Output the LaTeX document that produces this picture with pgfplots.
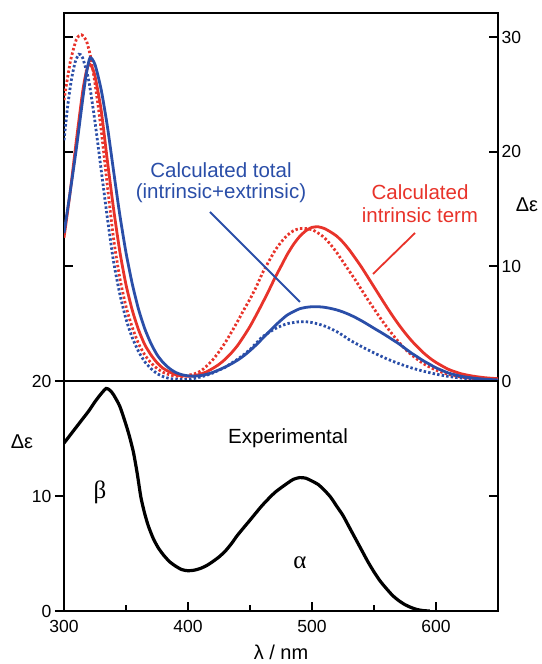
\documentclass[border=0pt]{standalone}
\usepackage{fontspec}
\setmainfont{Liberation Sans}
\newfontfamily\grserif{Liberation Serif}
\usepackage{pgfplots}
\pgfplotsset{compat=1.18}
\definecolor{cRed}{RGB}{232,51,42}
\definecolor{cBlue}{RGB}{42,78,168}

\pgfplotsset{
  panel/.style={
    scale only axis, width=434pt, anchor=south west,
    xmin=300, xmax=650,
    axis line style={line width=2pt},
    tick style={line width=1.8pt, black},
    major tick length=9pt, minor tick length=6pt,
    tick label style={font=\fontsize{17.5}{19}\selectfont},
    /pgf/number format/assume math mode=true,
  },
  ssolid/.style={line width=2.8pt, smooth, tension=0.4},
  sdot/.style={line width=2.8pt, smooth, tension=0.4, dash pattern=on 2.4pt off 2.2pt},
}

\begin{document}
\begin{tikzpicture}
\useasboundingbox (0,0) rectangle (541pt,664pt);

% top panel: calculated spectra
\begin{axis}[panel, at={(64pt,283pt)}, height=368pt, ymin=0, ymax=32.1,
  xtick=\empty, ytick={0,10,20,30}, ytick pos=both, yticklabel pos=right,
  tick align=inside]
% calculated intrinsic term, dotted
\addplot[cRed, sdot] coordinates {
 (300,24.5)(305,27.8)(310,29.8)(314,30.2)(318,29.7)(322,28.0)(326,25.2)(330,21.9)
 (335,17.0)(340,12.4)(345,9.0)(350,6.5)(355,4.7)(360,3.3)(365,2.3)(370,1.6)
 (375,1.1)(380,0.75)(385,0.55)(390,0.42)(395,0.4)(400,0.5)(405,0.62)(410,0.85)
 (415,1.3)(420,1.85)(425,2.55)(430,3.35)(435,4.25)(440,5.2)(445,6.2)(450,7.15)
 (455,8.2)(460,9.4)(465,10.4)(470,11.35)(475,12.1)(480,12.7)(485,13.1)(490,13.3)
 (495,13.3)(500,13.2)(505,12.9)(510,12.5)(515,11.9)(520,11.2)(525,10.4)(530,9.6)
 (535,8.8)(540,7.95)(545,7.1)(550,6.3)(555,5.5)(560,4.75)(565,4.05)(570,3.4)
 (575,2.8)(580,2.3)(590,1.5)(600,0.95)(610,0.58)(620,0.35)(630,0.2)(640,0.12)(650,0.07)
};
% calculated total, dotted
\addplot[cBlue, sdot] coordinates {
 (300,21.0)(303,24.0)(306,26.3)(309,27.8)(312,28.5)(315,28.2)(320,26.2)(325,22.6)
 (330,18.4)(335,14.2)(340,10.4)(345,7.6)(350,5.4)(355,3.8)(360,2.6)(365,1.7)
 (370,1.1)(375,0.65)(380,0.38)(385,0.22)(390,0.15)(395,0.12)(400,0.15)(405,0.22)
 (410,0.35)(415,0.5)(420,0.7)(425,0.95)(430,1.2)(435,1.55)(440,1.9)(445,2.3)
 (450,2.75)(455,3.3)(460,3.85)(470,4.55)(475,4.8)(480,5.0)(485,5.1)(490,5.17)
 (495,5.17)(500,5.1)(505,4.97)(510,4.8)(515,4.57)(520,4.3)(525,3.97)(530,3.6)
 (535,3.3)(540,3.0)(545,2.72)(550,2.45)(560,1.95)(570,1.52)(580,1.15)(590,0.85)
 (600,0.6)(610,0.4)(620,0.26)(630,0.16)(640,0.1)(650,0.06)
};
% calculated intrinsic term, solid
\addplot[cRed, ssolid] coordinates {
 (300,12.5)(305,16.5)(310,21.0)(315,25.2)(318,27.0)(320,27.6)(322,27.5)(325,26.6)
 (330,23.6)(335,19.2)(340,15.0)(345,11.3)(350,8.4)(355,6.2)(360,4.5)(365,3.2)
 (370,2.3)(375,1.6)(380,1.1)(385,0.8)(390,0.55)(395,0.45)(400,0.42)(405,0.45)
 (410,0.6)(415,0.8)(420,1.1)(425,1.45)(430,1.9)(435,2.45)(440,3.1)(445,3.9)
 (450,4.76)(455,5.75)(460,6.78)(465,7.85)(470,8.97)(475,10.0)(480,11.03)(485,11.9)
 (490,12.6)(495,13.1)(500,13.4)(505,13.45)(510,13.3)(515,13.0)(520,12.63)(525,12.1)
 (530,11.45)(535,10.7)(540,9.92)(545,9.07)(550,8.21)(555,7.35)(560,6.5)(565,5.68)
 (570,4.91)(575,4.2)(580,3.55)(585,2.98)(590,2.45)(595,2.0)(600,1.62)(610,1.02)
 (620,0.64)(630,0.42)(640,0.28)(650,0.2)
};
% calculated total, solid
\addplot[cBlue, ssolid] coordinates {
 (300,12.9)(305,16.5)(310,20.3)(315,24.5)(318,26.8)(321,28.2)(325,27.6)(330,25.4)
 (335,22.2)(340,18.3)(345,14.5)(350,11.2)(355,8.5)(360,6.3)(365,4.6)(370,3.3)
 (375,2.3)(380,1.6)(385,1.1)(390,0.75)(395,0.55)(400,0.45)(405,0.42)(410,0.47)
 (415,0.58)(420,0.75)(425,0.97)(430,1.22)(435,1.5)(440,1.82)(445,2.2)(450,2.65)
 (455,3.15)(460,3.7)(465,4.25)(470,4.8)(475,5.3)(480,5.75)(485,6.05)(490,6.3)(495,6.42)
 (500,6.48)(505,6.48)(510,6.43)(515,6.33)(520,6.2)(525,6.02)(530,5.8)(535,5.54)
 (540,5.25)(545,4.93)(550,4.6)(555,4.28)(560,3.95)(565,3.6)(570,3.25)(575,2.85)
 (580,2.45)(585,2.1)(590,1.75)(595,1.45)(600,1.15)(610,0.7)(620,0.42)(630,0.25)
 (640,0.15)(650,0.09)
};
\end{axis}

% bottom panel: experimental spectrum
\begin{axis}[panel, at={(64pt,53pt)}, height=230pt, ymin=0, ymax=20,
  xtick={300,400,500,600}, minor xtick={350,450,550}, xtick pos=bottom,
  xticklabel style={yshift=-6pt},
  ytick={10}, yticklabels={}, ytick pos=right, tick align=inside]
\addplot[black, line width=3.2pt, smooth, tension=0.4] coordinates {
 (300,14.6)(305,15.3)(310,16.0)(315,16.7)(320,17.4)(325,18.2)(330,18.9)(334,19.35)
 (337,19.2)(340,18.8)(345,17.8)(350,16.2)(353,15.1)(356,13.8)(359,12.0)(362,9.9)
 (365,8.5)(368,7.4)(372,6.3)(376,5.5)(380,4.9)(385,4.3)(390,3.9)(395,3.6)(400,3.5)
 (405,3.55)(410,3.7)(415,3.95)(420,4.3)(425,4.7)(430,5.2)(435,5.85)(440,6.6)
 (450,7.9)(460,9.2)(470,10.3)(480,11.1)(485,11.45)(490,11.6)(495,11.55)(500,11.3)
 (505,11.0)(510,10.5)(515,9.9)(520,9.1)(525,8.3)(530,7.3)(535,6.3)(540,5.3)
 (545,4.3)(550,3.4)(555,2.6)(560,1.95)(565,1.35)(570,0.9)(575,0.55)(580,0.3)
 (585,0.12)(590,0.03)(595,0)
};
\end{axis}
\begin{axis}[panel, at={(64pt,53pt)}, height=230pt, ymin=0, ymax=20,
  xtick=\empty, ytick={0,10,20}, ytick pos=left, tick align=outside]
\end{axis}

% annotations
\node[text=cBlue, align=center, font=\fontsize{20.5}{21}\selectfont] at (221pt,481pt)
  {Calculated total\\(intrinsic+extrinsic)};
\draw[cBlue, line width=1.8pt] (210pt,452pt) -- (300pt,362pt);
\node[text=cRed, align=center, font=\fontsize{20.5}{23}\selectfont] at (420pt,460.5pt)
  {Calculated\\intrinsic term};
\draw[cRed, line width=1.8pt] (415pt,431pt) -- (373pt,390pt);
\node[font=\fontsize{20.5}{22}\selectfont] at (288pt,226pt) {Experimental};
\node[font=\grserif\fontsize{25}{25}\selectfont] at (100pt,172pt) {β};
\node[font=\grserif\fontsize{25}{25}\selectfont] at (300pt,101pt) {α};
\node[font=\fontsize{20}{22}\selectfont] at (527pt,459pt) {Δε};
\node[font=\fontsize{20}{22}\selectfont] at (22pt,222pt) {Δε};
\node[anchor=base, font=\fontsize{20}{22}\selectfont] at (281pt,5pt) {λ / nm};
\end{tikzpicture}
\end{document}
